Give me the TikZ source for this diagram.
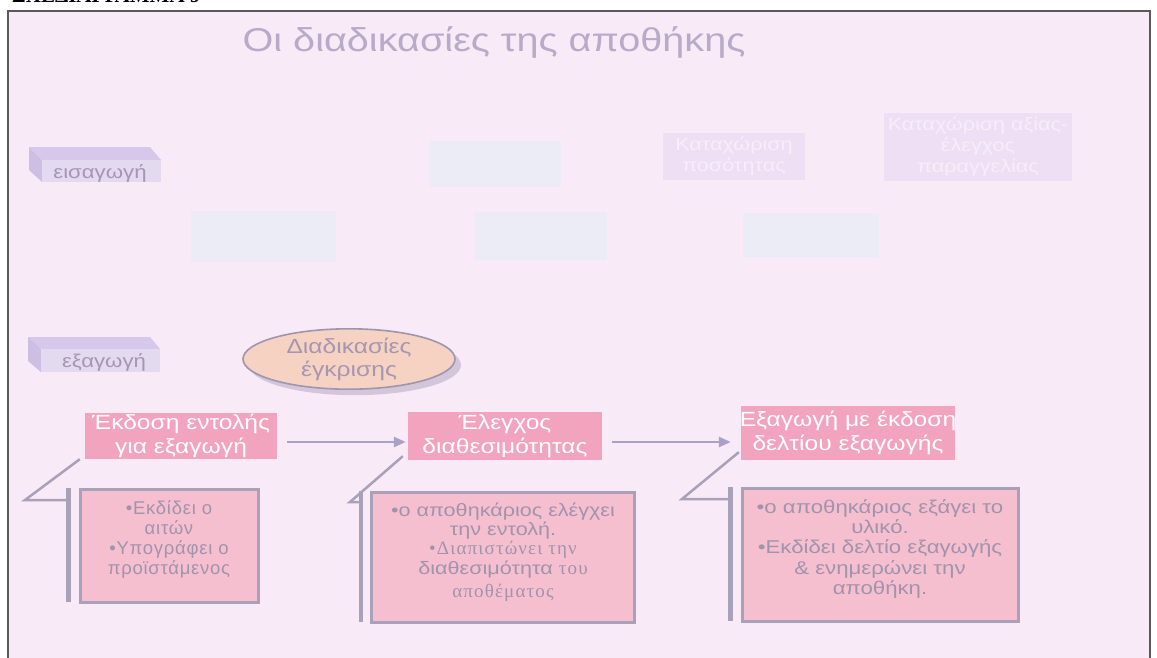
\documentclass[tikz,border=0pt]{standalone}
\usepackage{fontspec}
\setmainfont{Liberation Sans}
\newfontfamily\spaced[LetterSpace=4]{Liberation Sans}
\newfontfamily\wide[FakeStretch=1.2]{Liberation Sans}
\newfontfamily\timesgr{Liberation Serif}
\newfontfamily\timesspaced[LetterSpace=6]{Liberation Serif}
\usetikzlibrary{shapes.geometric,arrows.meta,shadows,calc}

\definecolor{pagebg}{HTML}{F8EAF6}
\definecolor{framec}{HTML}{5A5A5A}
\definecolor{titlec}{HTML}{B9AACA}
\definecolor{bartop}{HTML}{D6C8EA}
\definecolor{barfront}{HTML}{E3DAEF}
\definecolor{barside}{HTML}{CDBFE3}
\definecolor{bartext}{HTML}{A596B2}
\definecolor{ellfill}{HTML}{F6D2C2}
\definecolor{ellline}{HTML}{9E95AE}
\definecolor{shadowc}{HTML}{CFC3D8}
\definecolor{hdrfill}{HTML}{F2A3BD}
\definecolor{boxfill}{HTML}{F5BFD0}
\definecolor{boxline}{HTML}{A9A1BA}
\definecolor{boxtext}{HTML}{A094AD}
\definecolor{arrowc}{HTML}{A9A2C6}
\definecolor{paleblue}{HTML}{ECECF7}
\definecolor{palelav}{HTML}{EFDFF4}
\definecolor{palelavtext}{HTML}{F8EDF9}

\begin{document}
\begin{tikzpicture}[x=1pt,y=-1pt,
  hdr/.style={fill=hdrfill, inner sep=0pt, align=center, text=white,
    font=\wide\fontsize{20.5}{24.5}\selectfont},
  callbox/.style={draw=boxline, line width=3pt, fill=boxfill, inner sep=0pt},
  calltext/.style={anchor=north, align=center, inner sep=0pt, text=boxtext},
  callline/.style={draw=boxline, line width=2.5pt},
  barline/.style={draw=boxline, line width=4.5pt},
  flow/.style={draw=arrowc, line width=2.5pt,
    -{Triangle[length=12pt,width=10pt]}},
  stagelabel/.style={text=bartext, font=\wide\fontsize{18.5}{20}\selectfont},
  paleboxb/.style={fill=paleblue},
  paleboxl/.style={fill=palelav, align=center, text=palelavtext,
    font=\wide\fontsize{18}{21}\selectfont}
]
\useasboundingbox (0,0) rectangle (1157,657);
\begin{scope}
\clip (0,0) rectangle (1157,657);
\fill[white] (0,0) rectangle (1157,657);
\fill[pagebg] (8,11) rectangle (1150,680);
\draw[framec, line width=2pt] (8,11) rectangle (1150,680);

% page heading, cut by the top edge
\node[anchor=base west, inner sep=0pt,
  font=\timesgr\bfseries\fontsize{21}{21}\selectfont] (pagehead) at (12,2)
  {ΣΧΕΔΙΑΓΡΑΜΜΑ 9};

% slide title
\node[text=titlec, font=\wide\fontsize{33}{38}\selectfont] (title) at (494,42)
  {Οι διαδικασίες της αποθήκης};

% stage label: import
\fill[bartop] (29,147) -- (150,147) -- (161,160) -- (42,160) -- cycle;
\fill[barside] (29,147) -- (42,160) -- (42,182) -- (29,170) -- cycle;
\fill[barfront] (42,160) rectangle (161,182);
\node[stagelabel] (imp) at (100,173) {εισαγωγή};

% faded import steps
\path[paleboxb] (430,141) rectangle (561,187);
\node[paleboxl, minimum width=142pt, minimum height=47pt] (qty) at (734,156)
  {Καταχώριση\\ποσότητας};
\node[paleboxl, minimum width=165pt, minimum height=68pt] (val) at (978,147)
  {Καταχώριση αξίας-\\έλεγχος\\παραγγελίας};
\path[paleboxb] (191,211) rectangle (336,262);
\path[paleboxb] (475,212) rectangle (607,260);
\path[paleboxb] (743,213) rectangle (879,257);

% stage label: export
\fill[bartop] (28,337) -- (150,337) -- (160,349) -- (41,349) -- cycle;
\fill[barside] (28,337) -- (41,349) -- (41,372) -- (28,361) -- cycle;
\fill[barfront] (41,349) rectangle (160,372);
\node[stagelabel] (exp) at (104,362) {εξαγωγή};

% approval procedures
\node[ellipse, draw=ellline, line width=1.6pt, fill=ellfill,
  minimum width=212pt, minimum height=58pt, inner sep=0pt, align=center,
  text=bartext, font=\wide\fontsize{20.5}{23}\selectfont,
  drop shadow={shadow xshift=6pt, shadow yshift=-6pt, fill=shadowc, opacity=0.9}]
  (appr) at (349,359) {Διαδικασίες\\έγκρισης};

% export steps
\node[hdr, minimum width=192pt, minimum height=46pt] (h1) at (181,436)
  {Έκδοση εντολής\\για εξαγωγή};
\node[hdr, minimum width=194pt, minimum height=48pt] (h2) at (505,436)
  {Έλεγχος\\διαθεσιμότητας};
\node[hdr, minimum width=214pt, minimum height=54pt] (h3) at (848,433) {};
\begin{scope}
  \clip (h3.south west) rectangle (h3.north east);
  \node[hdr, fill=none] (h3t) at (h3.center) {Εξαγωγή με έκδοση\\δελτίου εξαγωγής};
\end{scope}

\draw[flow] ($(h1.east)+(10,6)$) -- ($(h2.west)+(-2,6)$);
\draw[flow] ($(h2.east)+(10,6)$) -- ($(h3.west)+(-10,9)$);

% step details
\node[callbox, minimum width=178pt, minimum height=113pt] (c1) at (169,546) {};
\node[calltext, font=\spaced\fontsize{18.5}{20}\selectfont] (t1)
  at ($(c1.north)+(0,12)$)
  {•Εκδίδει ο\\αιτών\\•Υπογράφει ο\\προϊστάμενος};
\node[callbox, minimum width=263pt, minimum height=130pt] (c2) at (503,557) {};
\node[calltext, font=\wide\fontsize{18}{19}\selectfont] (t2)
  at ($(c2.north)+(0,12)$)
  {•ο αποθηκάριος ελέγχει\\την εντολή.\\
   {\timesspaced\fontsize{19}{21}\selectfont •Διαπιστώνει την}\\[1pt]
   διαθεσιμότητα {\timesspaced\fontsize{19}{21}\selectfont του}\\[4pt]
   {\timesspaced\fontsize{19}{21}\selectfont αποθέματος}};
\node[callbox, minimum width=276pt, minimum height=133pt] (c3) at (880,555) {};
\node[calltext, font=\wide\fontsize{18.5}{20.3}\selectfont] (t3)
  at ($(c3.north)+(0,12)$)
  {•ο αποθηκάριος εξάγει το\\υλικό.\\•Εκδίδει δελτίο εξαγωγής\\
   \& ενημερώνει την\\αποθήκη.};

% callout pointers
\coordinate (k1) at (25,500);
\coordinate (k2) at (350,502);
\coordinate (k3) at (682,499);
\coordinate (s1) at ($(c1.north west)+(-10,0)$);
\coordinate (s2) at ($(c2.north west)+(-9,0)$);
\coordinate (s3) at ($(c3.north west)+(-10,0)$);
\draw[barline] (s1) -- ($(c1.south west)+(-10,-2)$);
\draw[barline] (s2) -- ($(c2.south west)+(-9,-2)$);
\draw[barline] (s3) -- ($(c3.south west)+(-10,-2)$);
\draw[callline] ($(h1.south west)+(-5,0)$) -- (k1) -- (k1 -| s1);
\draw[callline] ($(h2.south west)+(-5,-4)$) -- (k2) -- (k2 -| s2);
\draw[callline] ($(h3.south west)+(-2,-8)$) -- (k3) -- (k3 -| s3);
\end{scope}
\end{tikzpicture}
\end{document}
